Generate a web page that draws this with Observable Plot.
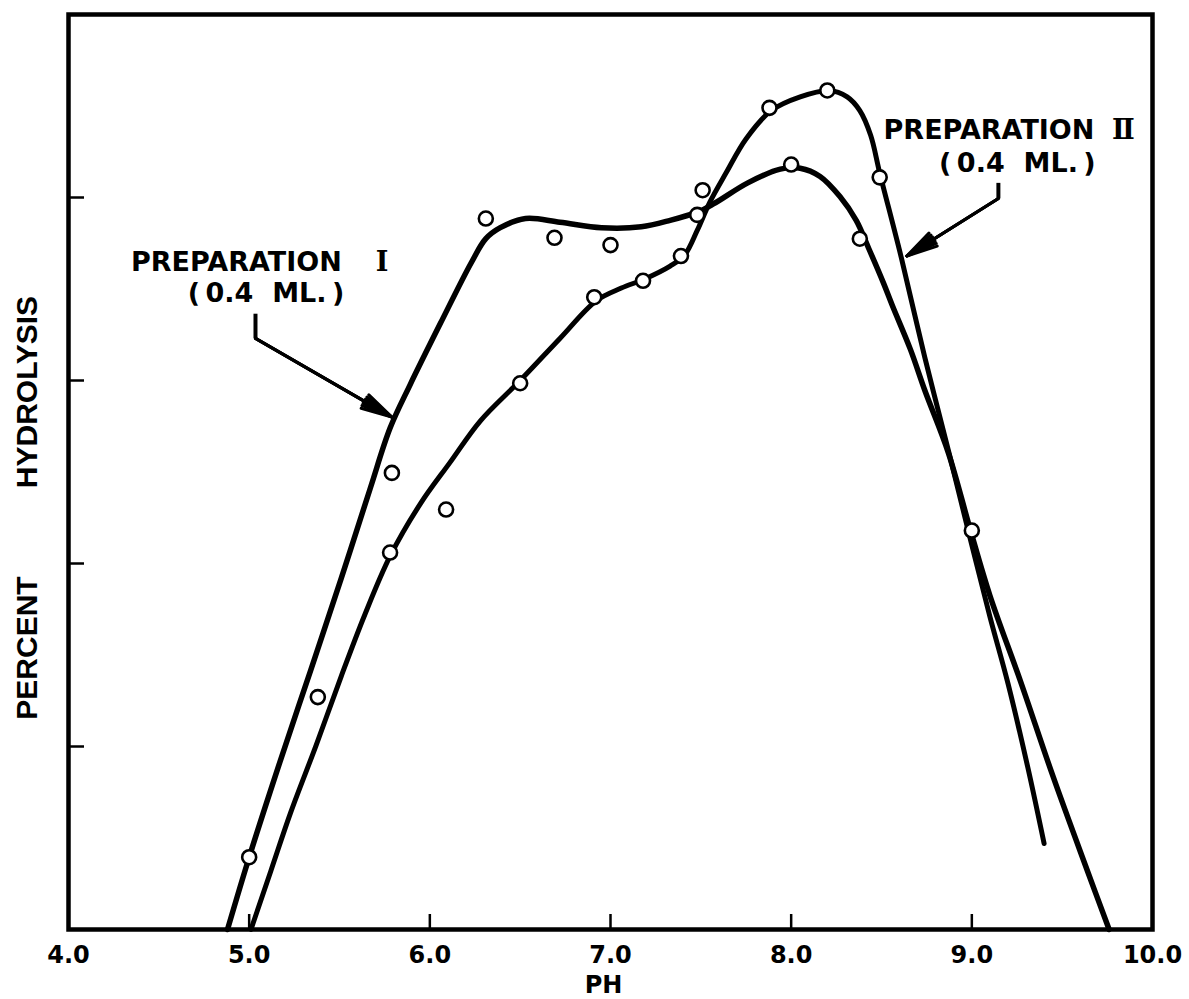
<!DOCTYPE html>
<html>
<head>
<meta charset="utf-8">
<script src="https://cdn.jsdelivr.net/npm/d3@7"></script>
<script src="https://cdn.jsdelivr.net/npm/@observablehq/plot@0.6"></script>
<style>
  html, body { margin: 0; padding: 0; background: #fff; }
  #chart svg { display: block; background: #fff; }
</style>
</head>
<body>
<div id="chart"></div>
<script>
// pH axis ticks (labelled) and percent ticks (unlabelled)
const phTicks = [4.0, 5.0, 6.0, 7.0, 8.0, 9.0, 10.0];
const percentTicks = [20, 40, 60, 80];

// Smoothed curve for Preparation I (0.4 ml)
const prepICurvePH  = [4.88, 5.00, 5.17, 5.34, 5.51, 5.67, 5.78, 5.89, 6.06, 6.23, 6.31, 6.39, 6.53, 6.72, 6.95, 7.17, 7.33, 7.48, 7.57, 7.76, 7.94, 8.05, 8.16, 8.27, 8.36, 8.43, 8.51, 8.56, 8.66, 8.74, 8.87, 8.99, 9.10, 9.27, 9.45, 9.64, 9.76];
const prepICurvePct = [0.0, 7.9, 18.3, 28.3, 38.4, 48.2, 54.8, 59.5, 66.3, 72.9, 75.5, 76.7, 77.7, 77.3, 76.7, 76.8, 77.5, 78.4, 79.3, 81.6, 83.1, 83.2, 82.3, 80.1, 77.5, 74.4, 70.7, 68.2, 63.4, 58.9, 52.1, 43.8, 36.5, 27.1, 16.7, 6.4, 0.0];

// Smoothed curve for Preparation II (0.4 ml)
const prepIICurvePH  = [5.01, 5.12, 5.23, 5.37, 5.51, 5.64, 5.78, 5.95, 6.11, 6.28, 6.50, 6.72, 6.92, 7.06, 7.19, 7.33, 7.41, 7.48, 7.55, 7.64, 7.75, 7.89, 8.05, 8.21, 8.31, 8.38, 8.44, 8.49, 8.61, 8.74, 8.88, 8.99, 9.10, 9.20, 9.31, 9.40];
const prepIICurvePct = [0.0, 6.4, 12.8, 20.1, 27.7, 34.4, 40.8, 46.6, 51.0, 55.6, 60.0, 64.6, 68.7, 70.1, 71.1, 72.5, 73.7, 76.4, 79.5, 82.7, 86.4, 89.5, 91.0, 91.7, 91.0, 89.5, 86.8, 82.7, 73.4, 62.5, 51.6, 42.8, 34.2, 26.9, 17.7, 9.4];

// Measured points
const obsIPH  = [5.00, 5.38, 5.79, 6.31, 6.69, 7.00, 7.48, 8.00, 8.38, 9.00];
const obsIPct = [7.9, 25.4, 49.9, 77.7, 75.6, 74.8, 78.1, 83.6, 75.5, 43.6];
const obsIIPH  = [5.78, 6.09, 6.50, 6.91, 7.18, 7.39, 7.51, 7.88, 8.20, 8.49];
const obsIIPct = [41.2, 45.9, 59.7, 69.1, 70.9, 73.6, 80.8, 89.8, 91.7, 82.2];

const zip = (xs, ys) => xs.map((x, i) => ({ph: x, pct: ys[i]}));
const curveI = zip(prepICurvePH, prepICurvePct);
const curveII = zip(prepIICurvePH, prepIICurvePct);
const pointsI = zip(obsIPH, obsIPct);
const pointsII = zip(obsIIPH, obsIIPct);

const letterFont = "DejaVu Sans";
const numeralFont = "DejaVu Serif";
const typeFont = "Liberation Sans";
const annot = {fontSize: 27, fontFamily: letterFont, fontWeight: "bold"};
const numeral = {fontSize: 27, fontFamily: numeralFont, fontWeight: "bold"};

// leader with a solid-looking head: stacked arrow heads of decreasing angle
function leader(x0, yTop, yBend, x1, y1) {
  return [
    Plot.link([0], {x1: x0, y1: yTop, x2: x0, y2: yBend, strokeWidth: 4}),
    ...[28, 18, 9].map(a =>
      Plot.arrow([0], {x1: x0, y1: yBend, x2: x1, y2: y1, strokeWidth: 3, headLength: 16, headAngle: a})
    )
  ];
}

const chart = Plot.plot({
  width: 1189,
  height: 999,
  marginLeft: 68,
  marginRight: 37,
  marginTop: 14,
  marginBottom: 70,
  x: {domain: [4, 10]},
  y: {domain: [0, 100], axis: null},
  marks: [
    // inward tick marks
    Plot.ruleX(phTicks.slice(1, -1), {x: d => d, y1: 0, y2: 0, insetBottom: 15, strokeWidth: 2.5}),
    Plot.ruleY(percentTicks, {y: d => d, x1: 4, x2: 4, insetRight: -16, strokeWidth: 2.5}),
    Plot.axisX(phTicks, {
      tickSize: 0, tickPadding: 16, tickFormat: d3.format(".1f"),
      fontSize: 24, fontFamily: letterFont, fontWeight: "bold", label: null
    }),
    Plot.text(["PH"], {frameAnchor: "bottom", lineAnchor: "middle", textAnchor: "middle", dx: -7, dy: 56, fontSize: 24, fontFamily: letterFont, fontWeight: "bold"}),
    Plot.text(["HYDROLYSIS"], {frameAnchor: "left", textAnchor: "middle", lineAnchor: "middle", rotate: -90, dx: -41, dy: -80, fontSize: 30, fontFamily: typeFont, fontWeight: "bold"}),
    Plot.text(["PERCENT"], {frameAnchor: "left", textAnchor: "middle", lineAnchor: "middle", rotate: -90, dx: -41, dy: 176, fontSize: 30, fontFamily: typeFont, fontWeight: "bold"}),

    // curves
    Plot.line(curveI, {x: "ph", y: "pct", curve: "catmull-rom", strokeWidth: 5.5, strokeLinecap: "round", strokeLinejoin: "round"}),
    Plot.line(curveII, {x: "ph", y: "pct", curve: "catmull-rom", strokeWidth: 5, strokeLinecap: "round", strokeLinejoin: "round"}),

    // measured points
    Plot.dot(pointsI, {x: "ph", y: "pct", r: 7, fill: "white", stroke: "black", strokeWidth: 2.6}),
    Plot.dot(pointsII, {x: "ph", y: "pct", r: 7, fill: "white", stroke: "black", strokeWidth: 2.6}),

    // Preparation I annotation
    Plot.text(["PREPARATION"], {x: 4.929, y: 72.9, ...annot}),
    Plot.text(["\u2160"], {x: 5.735, y: 72.9, ...numeral}),
    Plot.text(["(\u20090.4\u2002\u2009ML.\u2009)"], {x: 5.093, y: 69.5, ...annot}),
    ...leader(5.035, 67.3, 64.6, 5.79, 56.0),

    // Preparation II annotation
    Plot.text(["PREPARATION"], {x: 9.095, y: 87.3, ...annot}),
    Plot.text(["\u2161"], {x: 9.839, y: 87.3, ...numeral}),
    Plot.text(["(\u20090.4\u2002\u2009ML.\u2009)"], {x: 9.252, y: 83.7, ...annot}),
    ...leader(9.147, 81.6, 79.9, 8.64, 73.6),

    Plot.frame({strokeWidth: 4.5})
  ]
});

document.getElementById("chart").appendChild(chart);
</script>
</body>
</html>
